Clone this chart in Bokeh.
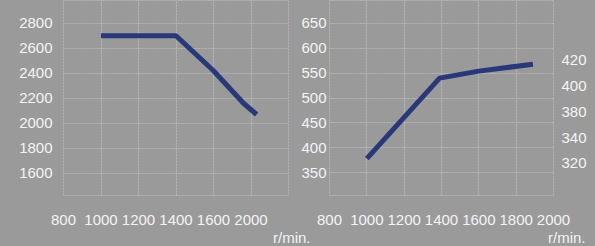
from bokeh.plotting import figure
from bokeh.layouts import row, column
from bokeh.models import (Range1d, LinearAxis, FixedTicker, Div,
                          GlobalInlineStyleSheet)
from bokeh.embed import file_html
from bokeh.resources import INLINE

# ---------------- data ----------------
left_rpm = [1000, 1400, 1600, 1760, 1830]
left_val = [2700, 2700, 2420, 2160, 2070]

right_rpm = [1000, 1390, 1600, 1890]
right_val = [378, 540, 554, 568]

x_grid = [800, 1000, 1200, 1400, 1600, 1800, 2000]
left_x_ticks = [800, 1000, 1200, 1400, 1600, 1800]
left_x_labels = ["800", "1000", "1200", "1400", "1600", "2000"]
right_x_ticks = [800, 1000, 1200, 1400, 1600, 1800, 2000]
right_x_labels = ["800", "1000", "1200", "1400", "1600", "1800", "2000"]

left_y_ticks = [1600, 1800, 2000, 2200, 2400, 2600, 2800]
right_y_ticks = [350, 400, 450, 500, 550, 600, 650]
right2_y_labels = ["320", "340", "380", "400", "420"]
unit_label = "r/min."

# ---------------- style ----------------
BG = "#9a9a9a"
GRID = "#b6b6b6"
TXT = "#f4f4f4"
LINE = "#283878"
FONT = "Liberation Sans"
FS = "15px"

css = GlobalInlineStyleSheet(css="html, body {margin:0 !important; padding:0; background:#9a9a9a; overflow:hidden;}")


def style_axis(ax, standoff):
    ax.axis_line_color = None
    ax.major_tick_line_color = None
    ax.minor_tick_line_color = None
    ax.major_tick_out = 0
    ax.major_tick_in = 0
    ax.major_label_text_color = TXT
    ax.major_label_text_font = FONT
    ax.major_label_text_font_size = FS
    ax.major_label_standoff = standoff


def make_fig(width, bl, br, xr, yr):
    p = figure(width=width, height=232, x_range=xr, y_range=yr,
               output_backend="svg", toolbar_location=None,
               min_border_left=bl, min_border_right=br,
               min_border_top=0, min_border_bottom=37)
    p.background_fill_color = BG
    p.border_fill_color = BG
    p.outline_line_color = GRID
    p.outline_line_dash = "2 1"
    p.xaxis.visible = False
    p.xgrid.ticker = FixedTicker(ticks=x_grid)
    for g in (p.xgrid, p.ygrid):
        g.grid_line_color = GRID
        g.grid_line_dash = "2 1"
        g.grid_line_width = 1.2
    return p


# ---------------- left panel ----------------
p1 = make_fig(298, 63, 10, Range1d(800, 2000), Range1d(1422, 2982))
p1.yaxis.ticker = FixedTicker(ticks=left_y_ticks)
style_axis(p1.yaxis[0], 11)
ax1 = LinearAxis(ticker=FixedTicker(ticks=left_x_ticks),
                 major_label_overrides={t: l for t, l in zip(left_x_ticks, left_x_labels)})
style_axis(ax1, 19)
p1.add_layout(ax1, "below")
p1.line(left_rpm, left_val, line_color=LINE, line_width=5, line_join="round")

# ---------------- right panel ----------------
p2 = make_fig(297, 30, 42, Range1d(800, 2000), Range1d(304, 696))
p2.yaxis.ticker = FixedTicker(ticks=right_y_ticks)
style_axis(p2.yaxis[0], 3)
ax2 = LinearAxis(ticker=FixedTicker(ticks=right_x_ticks),
                 major_label_overrides={t: l for t, l in zip(right_x_ticks, right_x_labels)})
style_axis(ax2, 19)
p2.add_layout(ax2, "below")
r_ticks = list(range(len(right2_y_labels)))
p2.extra_y_ranges = {"r": Range1d(-1.243, 6.33)}
ax3 = LinearAxis(y_range_name="r", ticker=FixedTicker(ticks=r_ticks),
                 major_label_overrides={t: l for t, l in zip(r_ticks, right2_y_labels)})
style_axis(ax3, 8)
p2.add_layout(ax3, "right")
p2.line(right_rpm, right_val, line_color=LINE, line_width=5, line_join="round")

# ---------------- unit labels ----------------
span = ("<span style='position:absolute;top:-2px;left:{}px;white-space:nowrap;line-height:15px;"
        "font-family:\"Liberation Sans\";font-size:15px;color:#f4f4f4;'>{}</span>")
units = Div(text=span.format(273, unit_label) + span.format(548, unit_label),
            width=595, height=14, margin=0,
            styles={"position": "relative", "overflow": "visible"})

layout = column(row(p1, p2, spacing=0), units, spacing=0, stylesheets=[css])
open("out.html", "w").write(file_html(layout, INLINE))
